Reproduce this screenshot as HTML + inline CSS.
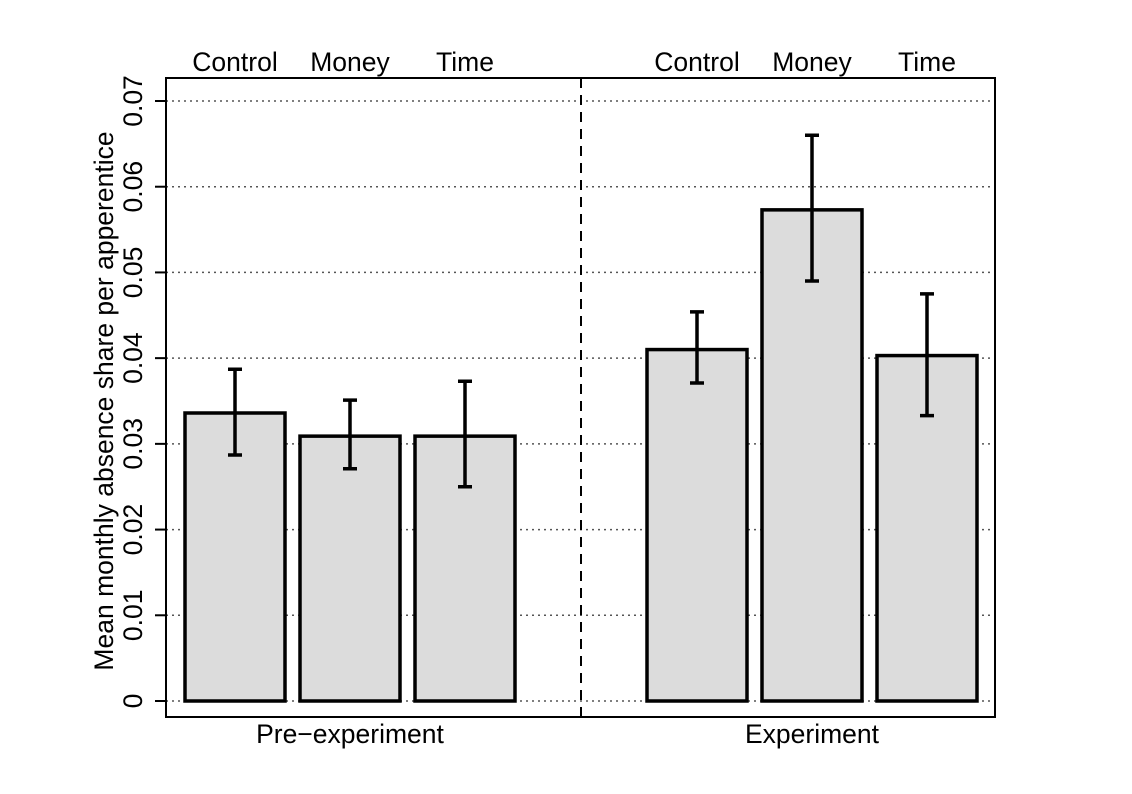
<!DOCTYPE html>
<html><head><meta charset="utf-8"><style>body{margin:0;background:#fff}svg{display:block}text{font-family:"Liberation Sans",sans-serif;font-size:26.5px;fill:#000}</style></head>
<body>
<svg width="1132" height="794">
<g id="grid"></g><g id="bars"></g><g id="yaxis"></g>
<rect x="166" y="78" width="829" height="639" fill="none" stroke="#000" stroke-width="2"/>
<line x1="581" y1="78" x2="581" y2="717" stroke="#000" stroke-width="2" stroke-dasharray="10,7"/>
<text x="350" y="743" text-anchor="middle">Pre−experiment</text>
<text x="812" y="743" text-anchor="middle">Experiment</text>
<text transform="translate(113,401) rotate(-90)" text-anchor="middle">Mean monthly absence share per apperentice</text>
</svg>
<script>
const categories=["Control","Money","Time","Control","Money","Time"];
const means=[0.0336,0.0309,0.0309,0.0410,0.0573,0.0403];
const upper=[0.0387,0.0351,0.0373,0.0454,0.0660,0.0475];
const lower=[0.0287,0.0271,0.0250,0.0371,0.0490,0.0333];
const yTicks=[0,0.01,0.02,0.03,0.04,0.05,0.06,0.07];
const yTickLabels=["0","0.01","0.02","0.03","0.04","0.05","0.06","0.07"];
const NS="http://www.w3.org/2000/svg";
const y=v=>701-v*600/0.07;
const xc=i=>235+115*i+(i>=3?117:0);
function mk(t,a,p){const e=document.createElementNS(NS,t);for(const k in a)e.setAttribute(k,a[k]);p.appendChild(e);return e;}
const grid=document.getElementById('grid'),bars=document.getElementById('bars'),ya=document.getElementById('yaxis');
yTicks.forEach((v,i)=>{
 const g=mk('line',{x1:166,x2:995,y1:y(v),y2:y(v),stroke:'#555','stroke-width':1.5,'stroke-dasharray':'2,4'},grid);
 
 
 const t=mk('line',{x1:155,x2:166,y1:y(v),y2:y(v),stroke:'#000','stroke-width':2},ya);
 
 
 const l=mk('text',{transform:`translate(142,${y(v)}) rotate(-90)`,'text-anchor':'middle'},ya);
 l.textContent=yTickLabels[i];
 
 
});
categories.forEach((c,i)=>{
 const cx=xc(i);
 const r=mk('rect',{x:cx-50,y:y(means[i]),width:100,height:y(0)-y(means[i]),fill:'#dcdcdc',stroke:'#000','stroke-width':3.5},bars);
 
 
 const e=mk('path',{d:`M${cx},${y(upper[i])}V${y(lower[i])}M${cx-7},${y(upper[i])}H${cx+7}M${cx-7},${y(lower[i])}H${cx+7}`,stroke:'#000','stroke-width':3.5,fill:'none'},bars);
 
 
 const t=mk('text',{x:cx,y:71,'text-anchor':'middle'},bars);
 t.textContent=c;
 
 
});
</script>
</body></html>
